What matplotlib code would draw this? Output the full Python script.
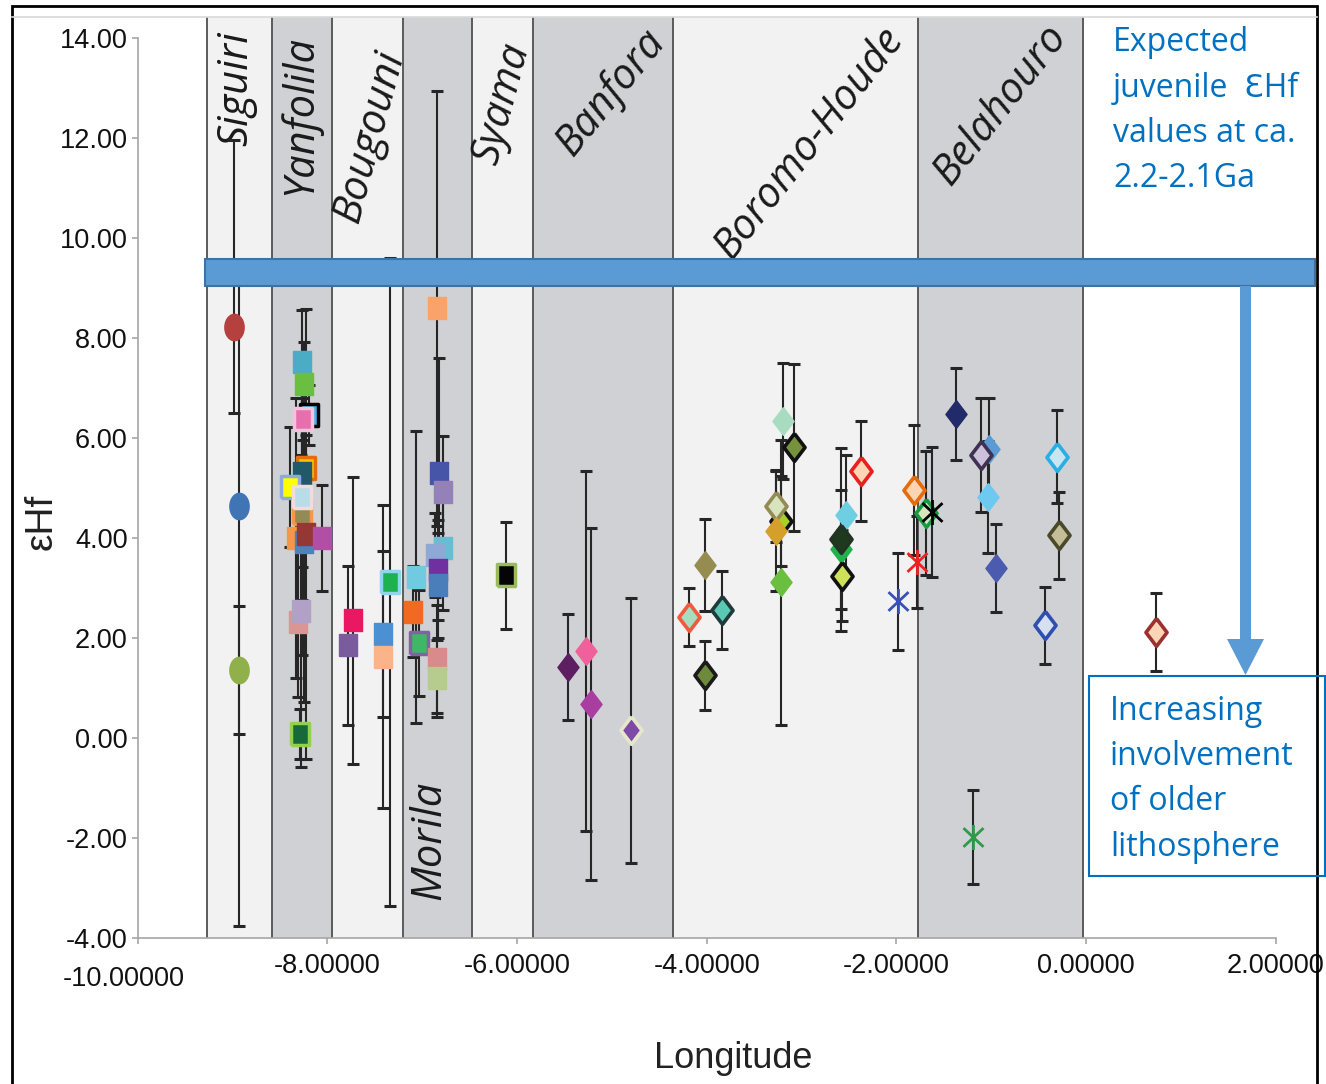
import numpy as np
import matplotlib
matplotlib.use('Agg')
import matplotlib.pyplot as plt
from matplotlib.path import Path
from matplotlib.patches import Rectangle, Polygon
from matplotlib import font_manager

W, H = 1326, 1084

# ---------------- data ----------------
# region bands along longitude
band_edges = [-9.27, -8.58, -7.95, -7.20, -6.47, -5.83, -4.36, -1.77, -0.03]
band_names = ['Siguiri', 'Yanfolila', 'Bougouni', 'Morila', 'Syama',
              'Banfora', 'Boromo-Houde', 'Belahouro']

# Siguiri (circles, asymmetric errors)
sig_lon = [-8.98, -8.93, -8.93]
sig_ehf = [8.21, 4.63, 1.35]
sig_lo = [1.72, 8.40, 1.28]
sig_hi = [3.75, 4.80, 1.28]
sig_face = ['#b5403d', '#3f74b5', '#8fb04a']

# Yanfolila / Bougouni / Morila / Syama (squares)
sq_lon = [-8.27, -8.24, -8.19, -8.26, -8.22, -8.27, -8.39, -8.27, -8.27, -8.33,
          -8.25, -8.22, -8.06, -8.31, -8.28, -8.29,
          -7.73, -7.78, -7.41, -7.41, -7.34,
          -6.84, -7.06, -7.10, -7.03, -6.82, -6.78, -6.78, -6.86, -6.83, -6.83,
          -6.84, -6.84,
          -6.12]
sq_ehf = [7.52, 7.07, 6.45, 6.37, 5.39, 5.29, 5.01, 4.49, 4.82, 3.99,
          3.92, 4.07, 3.99, 2.32, 2.54, 0.07,
          2.35, 1.85, 2.08, 1.62, 3.12,
          8.59, 3.22, 2.52, 1.89, 5.29, 4.92, 3.79, 3.65, 3.35, 3.05,
          1.57, 1.19,
          3.25]
sq_err = [1.03, 0.85, 0.60, 0.42, 0.66, 1.87, 1.20, 2.84, 2.07, 2.80,
          3.20, 4.50, 1.06, 1.50, 3.12, 0.50,
          2.87, 1.59, 1.66, 3.03, 6.48,
          4.35, 2.92, 0.91, 1.06, 2.30, 1.11, 1.24, 0.84, 1.00, 1.05,
          1.08, 0.77,
          1.07]
sq_face = ['#4bacc6', '#6abf40', '#3fb5e8', '#e86fae', '#ffc000', '#215968',
           '#ffff00', '#948a54', '#b7dee8', '#f79646', '#4f81bd', '#953735',
           '#b14fa4', '#d99694', '#b2a1c7', '#17693a',
           '#ea1863', '#7a5c9e', '#4a90d2', '#fbb48a', '#1db14f',
           '#f9a36a', '#70cbe0', '#f26a22', '#3fb767', '#4655a8', '#9381b8',
           '#6bbcd3', '#8ea9d6', '#7030a0', '#4a7ebb', '#d98a8a', '#b5cc8e',
           '#050505']
sq_edge = [None, None, '#000000', '#f2c4dc', '#e46c0a', None,
           '#8ea9db', '#f79646', '#f2dcdb', None, None, None,
           None, None, None, '#92d050',
           None, None, None, None, '#8fd6ec',
           None, None, None, '#8064a2', None, None,
           None, None, None, None, None, None,
           '#9bbb59']

# Banfora / Boromo-Houde / Belahouro / east (diamonds)
dm_lon = [-5.46, -5.27, -5.22, -4.80,
          -4.19, -4.02, -3.84, -4.02, -3.20, -3.08, -3.22, -3.27, -3.27,
          -3.22, -2.53, -2.59, -2.59, -2.57, -2.37, -1.82, -1.69,
          -1.37, -1.02, -1.11, -1.04, -0.95, -0.31, -0.29, -0.43,
          0.74]
dm_ehf = [1.41, 1.74, 0.67, 0.15,
          2.42, 3.45, 2.55, 1.25, 6.34, 5.81, 4.33, 4.63, 4.13,
          3.11, 4.45, 3.77, 3.97, 3.24, 5.33, 4.95, 4.49,
          6.47, 5.77, 5.65, 4.82, 3.39, 5.62, 4.05, 2.25,
          2.11]
dm_err = [1.06, 3.60, 3.52, 2.65,
          0.58, 0.92, 0.78, 0.69, 1.16, 1.67, 0.90, 0.72, 1.20,
          2.85, 1.21, 1.19, 1.83, 0.91, 1.00, 1.30, 1.24,
          0.92, 1.02, 1.14, 1.12, 0.88, 0.93, 0.87, 0.77,
          0.78]
dm_face = ['#5e1e62', '#f0609a', '#a93da0', '#7d4ba5',
           '#a8dcc0', '#958c52', '#5bc8b4', '#6e8b3d', '#a8dcc0', '#76923c',
           '#a6d12a', '#d7e4bd', '#d4a02a', '#6abf40', '#6ecfe3', '#21b24e',
           '#1e3a1e', '#cfe05a', '#fdd5b4', '#fcd5b5', '#d7e4bd',
           '#232a6b', '#5b9bd5', '#ccc0da', '#6ec9f0', '#4b5cb0', '#c8e6f0',
           '#c4bd97', '#d6e0f0',
           '#fcd5b4']
dm_edge = [None, None, None, '#e6e6cc',
           '#f05a3c', None, '#1f3a3a', '#1a1a1a', None, '#111111',
           '#111111', '#948a54', None, None, None, None,
           '#223322', '#111111', '#e82020', '#e46c0a', '#1a9a40',
           None, None, '#3f3151', None, None, '#29aee6',
           '#4a4a2a', '#2e4fb0',
           '#9c3030']

# asterisk series
st_lon = [-1.98, -1.78, -1.63, -1.19]
st_ehf = [2.73, 3.51, 4.51, -1.99]
st_err = [0.97, 0.92, 1.30, 0.94]
st_col = ['#3a4fb5', '#ee2222', '#000000', '#2e9a4a']

# ---------------- fonts ----------------
names = {f.name for f in font_manager.fontManager.ttflist}
if 'Liberation Sans Narrow' in names:
    narrow, tick_fs, xlab_fs = ['Liberation Sans Narrow', 'DejaVu Sans'], 23, 30
else:
    narrow, tick_fs, xlab_fs = ['Liberation Sans', 'DejaVu Sans'], 19.5, 26
body = ['Open Sans', 'DejaVu Sans']

# ---------------- markers ----------------
diamond = [(0, 1), (0.76, 0), (0, -1), (-0.76, 0), (0, 1)]
square = [(-0.78, -1), (0.78, -1), (0.78, 1), (-0.78, 1), (-0.78, -1)]
t = np.linspace(0, 2 * np.pi, 60)
ellipse = list(zip(0.73 * np.cos(t), np.sin(t)))
asterisk = Path([(0, -1), (0, 1), (-0.8, -0.75), (0.8, 0.75), (-0.8, 0.75), (0.8, -0.75)],
                [Path.MOVETO, Path.LINETO] * 3)

fig = plt.figure(figsize=(W / 100, H / 100), dpi=100)
ax = fig.add_axes([137.5 / W, 1 - 938 / H, (1276 - 137.5) / W, (938 - 17) / H])
ax.set_xlim(-10, 2)
ax.set_ylim(-4, 14.414)

# bands
for i in range(len(band_names)):
    shade = '#d0d1d4' if i % 2 else '#f2f2f2'
    ax.axvspan(band_edges[i], band_edges[i + 1], color=shade, lw=0, zorder=0)
for e in band_edges:
    ax.axvline(e, color='#5a5a5a', lw=1.4, zorder=0.5)

label_pos = [(-8.96, 12.99, 90), (-8.29, 12.45, 90), (-7.55, 12.03, 75),
             (-6.92, -2.05, 90), (-6.16, 12.67, 75), (-5.02, 12.91, 51),
             (-2.92, 11.89, 52), (-0.90, 12.65, 52)]
for name, (lx, ly, rot) in zip(band_names, label_pos):
    ax.text(lx, ly, name, rotation=rot, rotation_mode='anchor', ha='center',
            va='center', fontsize=30, family=body, style='italic',
            color='#1a1a1a', zorder=1)

# error bars under all markers, markers drawn in series order
eb = dict(fmt='none', ecolor='#262626', elinewidth=1.5, capsize=4, capthick=2.2, zorder=2)
mk = dict(linestyle='none')
z = 3.0

for x, y, lo, hi, fc in zip(sig_lon, sig_ehf, sig_lo, sig_hi, sig_face):
    ax.errorbar([x], [y], yerr=[[lo], [hi]], **eb)
    ax.plot([x], [y], marker=ellipse, ms=19, mfc=fc, mec=fc, mew=1, zorder=z, **mk)
    z += 0.1

for x, y, er, fc, ec in zip(sq_lon, sq_ehf, sq_err, sq_face, sq_edge):
    ax.errorbar([x], [y], yerr=er, **eb)
    ax.plot([x], [y], marker=square, ms=16.5, mfc=fc, mec=ec or fc,
            mew=2.5 if ec else 1, zorder=z, **mk)
    z += 0.1

for x, y, er, fc, ec in zip(dm_lon, dm_ehf, dm_err, dm_face, dm_edge):
    ax.errorbar([x], [y], yerr=er, **eb)
    ax.plot([x], [y], marker=diamond, ms=20, mfc=fc, mec=ec or fc,
            mew=2.6 if ec else 1, zorder=z, **mk)
    z += 0.1

for x, y, er, c in zip(st_lon, st_ehf, st_err, st_col):
    ax.errorbar([x], [y], yerr=er, **eb)
    ax.plot([x], [y], marker=asterisk, ms=18, mfc='none', mec=c, mew=2,
            zorder=z, **mk)
    z += 0.1

# axes styling
for s in ['top', 'right']:
    ax.spines[s].set_visible(False)
for s in ['left', 'bottom']:
    ax.spines[s].set_color('#a6a6a6')
    ax.spines[s].set_linewidth(1.2)
ax.spines['left'].set_bounds(-4, 14)
ax.set_yticks(np.arange(-4, 15, 2))
ax.set_yticklabels(['%.2f' % v for v in np.arange(-4, 15, 2)])
xt = np.arange(-10, 3, 2)
ax.set_xticks(xt)
ax.set_xticklabels([''] + ['%.5f' % v for v in xt[1:]])
ax.tick_params(axis='both', colors='#a6a6a6', labelcolor='#111111', length=4,
               width=1.2, labelsize=tick_fs)
ax.tick_params(axis='y', pad=3)
ax.tick_params(axis='x', pad=7)
for lab in ax.get_xticklabels() + ax.get_yticklabels():
    lab.set_family(narrow)
ax.annotate('-10.00000', xy=(-10, -4), xytext=(-10, -20), textcoords='offset points',
            ha='center', va='top', fontsize=tick_fs, family=narrow, color='#111111')

fig.text(733 / W, 1 - 1058 / H, 'Longitude', ha='center', va='center',
         fontsize=xlab_fs, family=narrow, color='#222222')
fig.text(42 / W, 1 - 522 / H, 'εHf', rotation=90, ha='center', va='center',
         fontsize=28, family=['Liberation Sans', 'DejaVu Sans'], color='#222222')

# ---------------- annotations (figure pixels) ----------------
def fp(px, py):
    return (px / W, 1 - py / H)

# outer frame and top line
fig.add_artist(Rectangle(fp(12, 1095), (1317 - 12) / W, (1095 - 6) / H, fill=False,
                         ec='black', lw=2, transform=fig.transFigure))
fig.add_artist(plt.Line2D([12 / W, 1317 / W], [1 - 17 / H] * 2, color='#d9d9d9',
                          lw=1.2, transform=fig.transFigure))

# juvenile bar
fig.add_artist(Rectangle(fp(205, 286), (1315 - 205) / W, 27 / H, fc='#5b9bd5',
                         ec='#41719c', lw=1.5, transform=fig.transFigure, zorder=20))
# arrow
arrow = [fp(1240, 286), fp(1251, 286), fp(1251, 639), fp(1264, 639),
         fp(1245.5, 675), fp(1227, 639), fp(1240, 639)]
fig.add_artist(Polygon(arrow, closed=True, fc='#5b9bd5', ec='none',
                       transform=fig.transFigure, zorder=20))

fig.text(1113 / W, 1 - 26 / H, 'Expected\njuvenile  ƐHf\nvalues at ca.\n2.2-2.1Ga',
         ha='left', va='top', fontsize=23, family=body, color='#0070c0',
         linespacing=1.49)

fig.add_artist(Rectangle(fp(1089, 876), (1325 - 1089) / W, 200 / H, fill=False,
                         ec='#0070c0', lw=1.5, transform=fig.transFigure, zorder=21))
fig.text(1110 / W, 1 - 695 / H, 'Increasing\ninvolvement\nof older\nlithosphere',
         ha='left', va='top', fontsize=23, family=body, color='#0070c0',
         linespacing=1.49)

fig.savefig('out.png', dpi=100)
